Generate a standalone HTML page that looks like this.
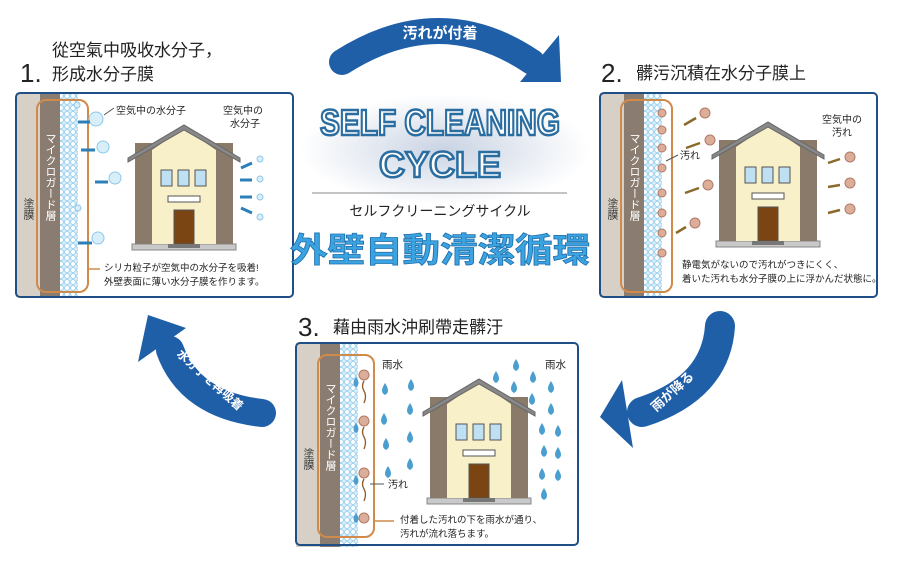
<!DOCTYPE html>
<html><head><meta charset="utf-8"><style>
html,body{margin:0;padding:0;background:#fff;}
svg{display:block;font-family:"Liberation Sans","Noto Sans CJK JP",sans-serif;}
</style></head><body>
<svg width="897" height="569" viewBox="0 0 897 569" xmlns="http://www.w3.org/2000/svg">
<defs>
<pattern id="bub" width="6" height="6" patternUnits="userSpaceOnUse">
<rect width="6" height="6" fill="#d9eefa"/>
<circle cx="3" cy="3" r="2.4" fill="#fff" stroke="#8cc8ea" stroke-width="0.8"/>
</pattern>
<radialGradient id="glow" cx="0.5" cy="0.5" r="0.5">
<stop offset="0" stop-color="#c9d3e3"/><stop offset="1" stop-color="#fff"/>
</radialGradient>
<g id="house">
<rect x="4" y="86" width="104" height="6" fill="#c9c9c9" stroke="#888" stroke-width="1"/>
<rect x="7" y="-15" width="98" height="101" fill="#8a7a6a"/>
<path d="M24 -8 L56 -30 L88 -8 L88 86 L24 86 Z" fill="#f7f0c8"/>
<path d="M0 0 L56 -33 L112 0 L112 4 L56 -28 L0 4 Z" fill="#888" stroke="#666" stroke-width="1"/>
<rect x="33" y="12" width="11" height="16" fill="#bfe0f2" stroke="#555"/>
<rect x="50" y="12" width="11" height="16" fill="#bfe0f2" stroke="#555"/>
<rect x="67" y="12" width="11" height="16" fill="#bfe0f2" stroke="#555"/>
<rect x="40" y="38" width="32" height="6" fill="#fff" stroke="#555"/>
<rect x="46" y="52" width="20" height="34" fill="#7a4512" stroke="#555"/>
<rect x="40" y="86" width="32" height="4" fill="#777"/>
</g>
<g id="layers">
<rect x="0" y="0" width="24" height="204" fill="#d7d0c6"/>
<rect x="24" y="0" width="20" height="204" fill="#8a7c70"/>
<rect x="44" y="0" width="18" height="204" fill="url(#bub)"/>
<text x="12" y="105" font-size="11" writing-mode="tb" fill="#333">塗膜</text>
<text x="34" y="40" font-size="11" writing-mode="tb" fill="#fff">マイクロガード層</text>
</g>
</defs>

<rect x="300" y="95" width="290" height="110" fill="url(#glow)"/>

<!-- Panel 1 -->
<g transform="translate(16,93)">
<rect x="0" y="0" width="277" height="204" rx="4" fill="#fff"/>
<use href="#layers"/>
<rect x="21" y="7" width="51" height="192" rx="9" fill="none" stroke="#d08a4a" stroke-width="2"/>
<g fill="#d8effa" stroke="#8cc8ea"><circle cx="80" cy="26" r="7"/><circle cx="87" cy="54" r="6"/><circle cx="99" cy="85" r="6"/><circle cx="82" cy="145" r="6"/><circle cx="62" cy="115" r="3"/><circle cx="61" cy="12" r="3"/><circle cx="244" cy="66" r="3"/><circle cx="244" cy="86" r="3"/><circle cx="244" cy="104" r="3"/><circle cx="244" cy="124" r="3"/></g>
<g stroke="#2d7fb8" stroke-width="3" fill="#2d7fb8">
<path d="M74 29 L62 29"/><path d="M79 57 L65 57"/><path d="M92 89 L79 89"/><path d="M76 150 L62 150"/>
<path d="M236 70 L225 75"/><path d="M236 87 L224 87"/><path d="M236 104 L224 104"/><path d="M236 120 L225 115"/>
</g>
<line x1="88" y1="22" x2="98" y2="15" stroke="#555"/>
<text x="100" y="21" font-size="10" fill="#222">空気中の水分子</text>
<text x="207" y="21" font-size="10" fill="#222">空気中の</text>
<text x="214" y="34" font-size="10" fill="#222">水分子</text>
<use href="#house" x="112" y="65"/>
<line x1="72" y1="176" x2="84" y2="176" stroke="#d08a4a" stroke-width="1.5"/>
<text x="88" y="178" font-size="9.5" fill="#222">シリカ粒子が空気中の水分子を吸着!</text>
<text x="88" y="192" font-size="9.5" fill="#222">外壁表面に薄い水分子膜を作ります。</text>
<rect x="0" y="0" width="277" height="204" rx="4" fill="none" stroke="#1f4f86" stroke-width="2"/>
</g>

<!-- Panel 2 -->
<g transform="translate(600,93)">
<rect x="0" y="0" width="277" height="204" rx="4" fill="#fff"/>
<use href="#layers"/>
<rect x="21" y="7" width="51" height="192" rx="9" fill="none" stroke="#d08a4a" stroke-width="2"/>
<g fill="#dcae9a" stroke="#b07a66">
<circle cx="62" cy="20" r="4"/><circle cx="62" cy="37" r="4"/><circle cx="62" cy="55" r="4"/><circle cx="62" cy="75" r="4"/><circle cx="62" cy="100" r="4"/><circle cx="62" cy="120" r="4"/><circle cx="62" cy="140" r="4"/><circle cx="62" cy="160" r="4"/>
<circle cx="105" cy="20" r="5"/><circle cx="110" cy="47" r="5"/><circle cx="108" cy="92" r="5"/><circle cx="95" cy="130" r="5"/>
<circle cx="250" cy="64" r="5"/><circle cx="250" cy="90" r="5"/><circle cx="250" cy="116" r="5"/>
</g>
<g stroke="#8a6a2a" stroke-width="2.5">
<path d="M96 25 L84 32"/><path d="M100 50 L86 55"/><path d="M99 95 L85 100"/><path d="M86 134 L76 140"/>
<path d="M240 66 L228 70"/><path d="M240 92 L228 94"/><path d="M240 117 L228 120"/>
</g>
<line x1="66" y1="68" x2="78" y2="62" stroke="#555"/>
<text x="80" y="66" font-size="10" fill="#222">汚れ</text>
<text x="222" y="30" font-size="10" fill="#222">空気中の</text>
<text x="232" y="43" font-size="10" fill="#222">汚れ</text>
<use href="#house" x="112" y="62"/>
<text x="82" y="175" font-size="9.5" fill="#222">静電気がないので汚れがつきにくく、</text>
<text x="82" y="189" font-size="9.5" fill="#222">着いた汚れも水分子膜の上に浮かんだ状態に。</text>
<rect x="0" y="0" width="277" height="204" rx="4" fill="none" stroke="#1f4f86" stroke-width="2"/>
</g>

<!-- Panel 3 -->
<g transform="translate(296,343)">
<rect x="0" y="0" width="282" height="202" rx="4" fill="#fff"/>
<use href="#layers"/>
<rect x="22" y="12" width="56" height="182" rx="9" fill="none" stroke="#d08a4a" stroke-width="2"/>
<g fill="#dcae9a" stroke="#b07a66"><circle cx="68" cy="32" r="5"/><circle cx="68" cy="78" r="5"/><circle cx="68" cy="130" r="5"/><circle cx="68" cy="175" r="5"/></g>
<g stroke="#8a5a2a" fill="none" stroke-width="1.3"><path d="M68 38 q-3 5 0 10 q3 5 0 12"/><path d="M68 84 q-3 5 0 10 q3 5 0 12"/><path d="M68 136 q-3 5 0 10 q3 5 0 12"/></g>
<g fill="#4a9fd0">
<path d="M60 34 q-5 7 0 10 q5 -3 0 -10z"/><path d="M60 80 q-5 7 0 10 q5 -3 0 -10z"/><path d="M60 132 q-5 7 0 10 q5 -3 0 -10z"/><path d="M60 170 q-5 7 0 10 q5 -3 0 -10z"/>
<path d="M115 36 q-6 9 0 12 q6 -3 0 -12z"/><path d="M89 40 q-6 9 0 12 q6 -3 0 -12z"/><path d="M88 70 q-6 9 0 12 q6 -3 0 -12z"/><path d="M114 60 q-6 9 0 12 q6 -3 0 -12z"/><path d="M90 95 q-6 9 0 12 q6 -3 0 -12z"/><path d="M114 88 q-6 9 0 12 q6 -3 0 -12z"/><path d="M114 115 q-6 9 0 12 q6 -3 0 -12z"/><path d="M92 123 q-6 9 0 12 q6 -3 0 -12z"/>
<path d="M200 28 q-6 9 0 12 q6 -3 0 -12z"/><path d="M220 16 q-6 9 0 12 q6 -3 0 -12z"/><path d="M237 28 q-6 9 0 12 q6 -3 0 -12z"/><path d="M218 38 q-6 9 0 12 q6 -3 0 -12z"/><path d="M236 50 q-6 9 0 12 q6 -3 0 -12z"/><path d="M255 38 q-6 9 0 12 q6 -3 0 -12z"/><path d="M255 60 q-6 9 0 12 q6 -3 0 -12z"/><path d="M246 80 q-6 9 0 12 q6 -3 0 -12z"/><path d="M262 82 q-6 9 0 12 q6 -3 0 -12z"/><path d="M248 102 q-6 9 0 12 q6 -3 0 -12z"/><path d="M262 104 q-6 9 0 12 q6 -3 0 -12z"/><path d="M246 125 q-6 9 0 12 q6 -3 0 -12z"/><path d="M262 126 q-6 9 0 12 q6 -3 0 -12z"/><path d="M248 145 q-6 9 0 12 q6 -3 0 -12z"/>
</g>
<text x="86" y="25" font-size="10.5" fill="#222">雨水</text>
<text x="249" y="25" font-size="10.5" fill="#222">雨水</text>
<line x1="74" y1="141" x2="88" y2="141" stroke="#555"/>
<text x="92" y="145" font-size="10" fill="#222">汚れ</text>
<use href="#house" x="127" y="69"/>
<line x1="78" y1="178" x2="98" y2="178" stroke="#d08a4a" stroke-width="1.5"/>
<text x="104" y="180" font-size="9.5" fill="#222">付着した汚れの下を雨水が通り、</text>
<text x="104" y="194" font-size="9.5" fill="#222">汚れが流れ落ちます。</text>
<rect x="0" y="0" width="282" height="202" rx="4" fill="none" stroke="#1f4f86" stroke-width="2"/>
</g>

<!-- Headings -->
<text x="20" y="82" font-size="26" fill="#222">1.</text>
<text x="52" y="56" font-size="17" fill="#222">從空氣中吸收水分子，</text>
<text x="52" y="80" font-size="17" fill="#222">形成水分子膜</text>
<text x="601" y="82" font-size="26" fill="#222">2.</text>
<text x="636" y="79" font-size="17" fill="#222">髒污沉積在水分子膜上</text>
<text x="298" y="336" font-size="26" fill="#222">3.</text>
<text x="333" y="333" font-size="17" fill="#222">藉由雨水沖刷帶走髒汙</text>

<!-- Arrows -->
<path d="M342 62 Q 440 0 532 62" fill="none" stroke="#1f5fa8" stroke-width="26" stroke-linecap="round"/>
<polygon points="559,35 561,82 520,82" fill="#1f5fa8"/>
<text x="440" y="38" font-size="15" fill="#fff" font-weight="bold" text-anchor="middle">汚れが付着</text>

<path d="M720 326 Q 716 388 642 412" fill="none" stroke="#1f5fa8" stroke-width="30" stroke-linecap="round"/>
<polygon points="622,380 600,417 633,448" fill="#1f5fa8"/>
<text x="672" y="396" font-size="13" fill="#fff" font-weight="bold" text-anchor="middle" transform="rotate(-42 672 391)">雨が降る</text>

<path d="M262 413 Q 190 405 170 350" fill="none" stroke="#1f5fa8" stroke-width="28" stroke-linecap="round"/>
<polygon points="148,315 138,362 186,328" fill="#1f5fa8"/>
<text x="210" y="384" font-size="12" fill="#fff" font-weight="bold" text-anchor="middle" transform="rotate(42 210 380)">水分子を再吸着</text>

<!-- Center title -->
<g font-weight="bold" font-size="36" fill="#fff" stroke="#2a6da0" stroke-width="2.5" text-anchor="middle">
<text x="440" y="135" textLength="240" lengthAdjust="spacingAndGlyphs">SELF CLEANING</text>
<text x="440" y="177">CYCLE</text>
</g>
<line x1="312" y1="193" x2="567" y2="193" stroke="#888"/>
<text x="440" y="216" font-size="14" fill="#222" text-anchor="middle">セルフクリーニングサイクル</text>
<text x="440" y="262" font-size="34" font-weight="bold" fill="#3aa3e0" stroke="#1f6fae" stroke-width="0.8" text-anchor="middle" textLength="300" lengthAdjust="spacingAndGlyphs">外壁自動清潔循環</text>
</svg>
</body></html>
